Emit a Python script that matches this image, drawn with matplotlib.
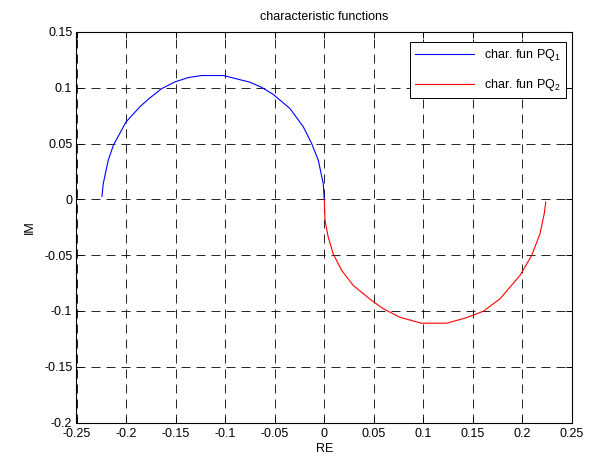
import matplotlib
matplotlib.use("Agg")
import matplotlib.pyplot as plt

plt.rcParams['font.family'] = ['Liberation Sans', 'DejaVu Sans']
plt.rcParams['mathtext.fontset'] = 'custom'
plt.rcParams['mathtext.rm'] = 'Liberation Sans'
plt.rcParams['mathtext.it'] = 'Liberation Sans:italic'

# data
pq1_re = [-0.2243, -0.223, -0.218, -0.2128, -0.200, -0.186, -0.1775, -0.164, -0.1506,
          -0.137, -0.1237, -0.1019, -0.0749, -0.063, -0.0514, -0.0346, -0.0211,
          -0.0127, -0.006, -0.001, 0.0]
pq1_im = [0.0027, 0.0141, 0.035, 0.0485, 0.0694, 0.083, 0.0898, 0.0993, 0.1053,
          0.1092, 0.1110, 0.1110, 0.105, 0.1003, 0.094, 0.0814, 0.065,
          0.050, 0.035, 0.014, 0.0]
pq2_re = [0.0, 0.0008, 0.004, 0.009, 0.0176, 0.0293, 0.0479, 0.0596, 0.0764, 0.098,
          0.1236, 0.1437, 0.1605, 0.1773, 0.1975, 0.2093, 0.2177, 0.222, 0.2235]
pq2_im = [0.0, -0.0189, -0.0338, -0.0488, -0.0637, -0.0772, -0.0907, -0.098, -0.1057,
          -0.111, -0.111, -0.106, -0.1003, -0.0892, -0.0682, -0.0503, -0.0308,
          -0.0128, -0.0024]

xticks = [-0.25, -0.2, -0.15, -0.1, -0.05, 0, 0.05, 0.1, 0.15, 0.2, 0.25]
yticks = [-0.2, -0.15, -0.1, -0.05, 0, 0.05, 0.1, 0.15]

def fmt(v):
    return '0' if v == 0 else ('%g' % v)

fig = plt.figure(figsize=(5.95, 4.62), dpi=100)
ax = fig.add_axes([76.5/595, 1-422.5/462, (572-76.5)/595, (422.5-32)/462])

ax.plot(pq1_re, pq1_im, color=(0, 0, 1), lw=0.8, label='char. fun PQ$_{\\mathregular{1}}$')
ax.plot(pq2_re, pq2_im, color=(1, 0, 0), lw=0.8, label='char. fun PQ$_{\\mathregular{2}}$')

ax.set_xlim(-0.25, 0.25)
ax.set_ylim(-0.2, 0.15)
ax.set_xticks(xticks)
ax.set_xticklabels([fmt(v) for v in xticks])
ax.set_yticks(yticks)
ax.set_yticklabels([fmt(v) for v in yticks])
ax.tick_params(direction='in', top=True, right=True, length=4, width=0.7,
               labelsize=9, colors='black')
ax.tick_params(axis='x', pad=4)
ax.tick_params(axis='y', pad=3)
ax.grid(True, color='black', lw=0.6, linestyle=(0, (10.8, 7.2)))
for s in ax.spines.values():
    s.set_linewidth(0.8)

ax.set_title('characteristic functions', fontsize=9, pad=9)
ax.set_xlabel('RE', fontsize=9, labelpad=2)
ax.set_ylabel('IM', fontsize=9, labelpad=6)

leg = ax.legend(loc='upper right', bbox_to_anchor=(0.988, 0.974), borderaxespad=0,
                fontsize=9, frameon=True, fancybox=False,
                handlelength=4.7, edgecolor='black',
                framealpha=1, labelspacing=1.1)
leg.get_frame().set_linewidth(0.7)

fig.savefig('out.png', dpi=100)
